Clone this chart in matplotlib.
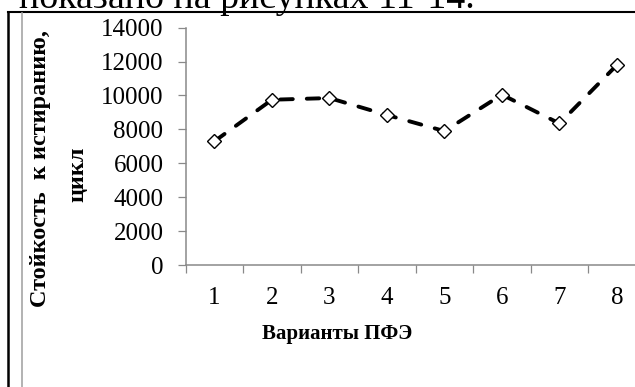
import matplotlib
matplotlib.use("Agg")
import matplotlib.pyplot as plt
from matplotlib.ticker import FixedLocator, NullFormatter

# Abrasion resistance per PFE variant
variants = [1, 2, 3, 4, 5, 6, 7, 8]
cycles = [7300, 9750, 9850, 8850, 7900, 10050, 8350, 11800]
y_ticks = [0, 2000, 4000, 6000, 8000, 10000, 12000, 14000]

x_title = "Варианты ПФЭ"
y_title_1 = "Стойкость  к истиранию,"
y_title_2 = "цикл"
page_text = "показано на рисунках 11-14."

W, H = 635, 387
fig = plt.figure(figsize=(W / 100, H / 100), dpi=100)
plt.rcParams["font.family"] = ["Liberation Serif", "DejaVu Serif"]

def fx(px):
    return px / W

def fy(py):
    return 1 - py / H

# page frame and body text above the chart
fig.add_artist(plt.Line2D([fx(8.3), fx(8.3)], [fy(12), fy(387)], color="black", lw=1.8,
                          transform=fig.transFigure))
fig.add_artist(plt.Line2D([fx(7.5), 1.0], [fy(12.3), fy(12.3)], color="black", lw=1.5,
                          transform=fig.transFigure))
fig.add_artist(plt.Line2D([fx(21.5), fx(21.5)], [fy(13), fy(387)], color="#a6a6a6", lw=1.2,
                          transform=fig.transFigure))
fig.text(fx(19), fy(8), page_text, fontsize=27.3, ha="left", va="baseline",
         color="black")

# plot area
left, right, top, bottom = 185.7, 645.7, 27.7, 265
ax = fig.add_axes([fx(left), fy(bottom), fx(right - left), (bottom - top) / H])
ax.set_xlim(0.5, len(variants) + 0.5)
ax.set_ylim(0, 14000)

axis_grey = "#898989"
for side in ("top", "right"):
    ax.spines[side].set_visible(False)
for side in ("left", "bottom"):
    ax.spines[side].set_color(axis_grey)
    ax.spines[side].set_linewidth(1.1)

ax.set_yticks(y_ticks)
ax.set_yticklabels([str(v) for v in y_ticks])
ax.tick_params(axis="y", direction="out", length=5.5, width=0.9, color=axis_grey,
               pad=10.5, labelsize=18)

ax.set_xticks(variants)
ax.set_xticklabels([str(v) for v in variants])
ax.xaxis.set_minor_locator(FixedLocator([v + 0.5 for v in [0] + variants]))
ax.xaxis.set_minor_formatter(NullFormatter())
ax.tick_params(axis="x", which="major", length=0, pad=16, labelsize=18)
ax.tick_params(axis="x", which="minor", direction="out", length=6, width=0.9,
               color=axis_grey)

ax.plot(variants, cycles, color="black", lw=2.8, dashes=(3.2, 3.6),
        dash_capstyle="round", marker="D", markersize=7.2,
        markerfacecolor="white", markeredgecolor="black", markeredgewidth=1.0,
        clip_on=False, zorder=3)

fig.text(fx(337.5), fy(334), x_title, fontsize=15, fontweight="bold",
         ha="center", va="center")
fig.text(fx(41), fy(169), y_title_1, fontsize=17.5, fontweight="bold",
         rotation=90, ha="center", va="center")
fig.text(fx(78), fy(174), y_title_2, fontsize=17.5, fontweight="bold",
         rotation=90, ha="center", va="center")

fig.savefig("out.png", dpi=100, facecolor="white")
